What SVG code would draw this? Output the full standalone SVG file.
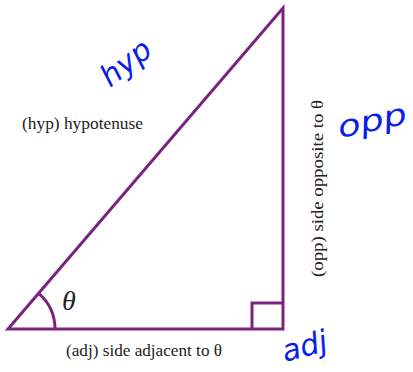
<svg xmlns="http://www.w3.org/2000/svg" width="413" height="372" viewBox="0 0 413 372">
<style>
.edge{fill:none;stroke:#7a2280;stroke-width:3;stroke-linejoin:miter}
.lbl{font-family:"Liberation Serif",serif;font-size:17px;fill:#222}
.hand{font-family:"DejaVu Sans",sans-serif;font-style:italic;font-size:30px;fill:#0a1ee8}
</style>
<rect width="413" height="372" fill="#fff"/>
<g id="connectors">
<path class="edge" d="M8,329 L283,8 L283,329 Z"/>
<path class="edge" d="M252,329 L252,303 L283,303" stroke-width="4"/>
<path class="edge" d="M55,329 A47,47 0 0 0 38.6,293.3"/>
</g>
<g id="theta"><text x="62" y="310" font-family="Liberation Serif,serif" font-style="italic" font-size="28" fill="#222">θ</text></g>
<g id="hyp-label"><text class="lbl" x="22" y="129" textLength="121" lengthAdjust="spacingAndGlyphs">(hyp) hypotenuse</text></g>
<g id="opp-label"><text class="lbl" transform="translate(323,277) rotate(-90)" textLength="177" lengthAdjust="spacingAndGlyphs">(opp) side opposite to θ</text></g>
<g id="adj-label"><text class="lbl" x="66" y="356" textLength="156" lengthAdjust="spacingAndGlyphs">(adj) side adjacent to θ</text></g>
<g id="hand-hyp"><text class="hand" transform="translate(110,88) rotate(-38)" font-size="32">hyp</text></g>
<g id="hand-opp"><text class="hand" transform="translate(340,138) rotate(-12)" font-size="36" textLength="70" lengthAdjust="spacingAndGlyphs">opp</text></g>
<g id="hand-adj"><text class="hand" transform="translate(285,362) rotate(-15)" font-size="32">adj</text></g>
</svg>
